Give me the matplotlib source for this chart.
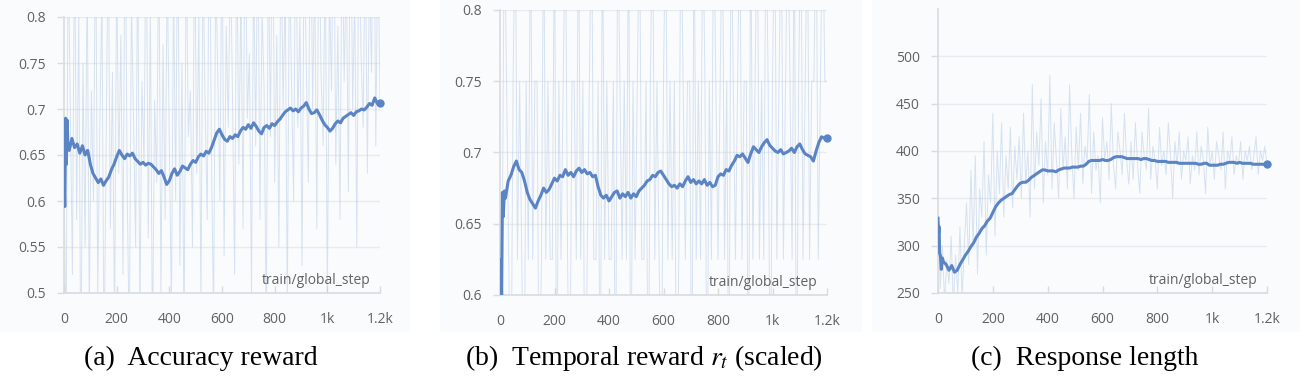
import numpy as np
import matplotlib
matplotlib.use("Agg")
import matplotlib.pyplot as plt
from matplotlib.patches import Rectangle

plt.rcParams['font.family'] = ['Open Sans', 'DejaVu Sans']
plt.rcParams['mathtext.fontset'] = 'stix'

# ---- data ----
raw_step = 8

acc_raw = [
    0.62, 0.45, 0.88, 0.70, 0.52, 0.91, 0.58, 0.80, 0.40, 0.75,
    0.55, 0.85, 0.48, 0.72, 0.60, 0.92, 0.50, 0.68, 0.83, 0.42,
    0.66, 0.90, 0.57, 0.74, 0.46, 0.86, 0.63, 0.78, 0.52, 0.95,
    0.61, 0.44, 0.82, 0.69, 0.55, 0.88, 0.47, 0.73, 0.64, 0.93,
    0.56, 0.81, 0.43, 0.71, 0.62, 0.90, 0.50, 0.77, 0.58, 0.86,
    0.66, 0.48, 0.84, 0.60, 0.94, 0.53, 0.75, 0.45, 0.89, 0.67,
    0.72, 0.55, 0.91, 0.63, 0.80, 0.49, 0.87, 0.70, 0.58, 0.96,
    0.65, 0.47, 0.85, 0.74, 0.60, 0.92, 0.54, 0.79, 0.68, 0.88,
    0.71, 0.52, 0.90, 0.64, 0.83, 0.57, 0.95, 0.69, 0.76, 0.50,
    0.86, 0.66, 0.93, 0.58, 0.81, 0.72, 0.46, 0.89, 0.67, 0.97,
    0.62, 0.78, 0.55, 0.91, 0.70, 0.84, 0.48, 0.87, 0.73, 0.60,
    0.94, 0.68, 0.80, 0.53, 0.90, 0.75, 0.62, 0.96, 0.70, 0.85,
    0.57, 0.92, 0.74, 0.66, 0.88, 0.49, 0.83, 0.72, 0.95, 0.64,
    0.79, 0.58, 0.91, 0.73, 0.86, 0.61, 0.97, 0.70, 0.82, 0.55,
    0.93, 0.76, 0.68, 0.90, 0.63, 0.85, 0.74, 0.98, 0.66, 0.89,
    0.71,
]

temp_raw = [
    0.500, 0.625, 0.875, 0.750, 0.625, 0.500, 0.750, 0.875, 0.625, 0.750,
    0.625, 0.500, 0.750, 0.625, 0.875, 0.625, 0.750, 0.750, 0.500, 0.625,
    0.875, 0.625, 0.750, 0.625, 0.625, 0.875, 0.500, 0.750, 0.625, 0.750,
    0.875, 0.625, 0.500, 0.750, 0.750, 0.625, 0.875, 0.625, 0.750, 0.500,
    0.625, 0.750, 0.875, 0.625, 0.625, 0.750, 0.500, 0.875, 0.625, 0.750,
    0.625, 0.625, 0.750, 0.500, 0.875, 0.750, 0.625, 0.750, 0.625, 0.875,
    0.500, 0.750, 0.625, 0.750, 0.875, 0.625, 0.625, 0.750, 0.500, 0.750,
    0.875, 0.625, 0.750, 0.625, 0.500, 0.750, 0.875, 0.625, 0.750, 0.625,
    0.750, 0.500, 0.625, 0.875, 0.750, 0.625, 0.750, 0.750, 0.500, 0.875,
    0.625, 0.750, 0.625, 0.875, 0.750, 0.500, 0.750, 0.625, 0.875, 0.750,
    0.625, 0.750, 0.875, 0.625, 0.750, 0.500, 0.875, 0.750, 0.625, 0.750,
    0.875, 0.625, 0.750, 0.750, 0.500, 0.875, 0.625, 0.750, 0.875, 0.625,
    0.750, 0.625, 0.875, 0.750, 0.500, 0.750, 0.875, 0.625, 0.750, 0.875,
    0.625, 0.750, 0.875, 0.750, 0.625, 0.875, 0.500, 0.750, 0.875, 0.625,
    0.750, 0.875, 0.625, 0.750, 0.750, 0.875, 0.625, 0.750, 0.875, 0.750,
    0.750,
]

len_raw = [
    330, 255, 300, 240, 285, 260, 310, 235, 290, 250, 320, 245, 300,
    345, 280, 380, 300, 395, 270, 360, 330, 410, 290, 375, 345, 440, 310,
    400, 355, 430, 330, 395, 360, 425, 340, 405, 370, 415,
    350, 440, 365, 400, 330, 470, 360, 420, 385, 455, 345, 410, 375, 480,
    360, 430, 390, 350, 445, 380, 415, 360, 470, 395, 350, 425, 380, 440,
    365, 405, 390, 460, 355, 420, 380, 395, 345, 435, 390, 410, 370, 450,
    385, 360, 420, 400, 375, 440, 390, 365,
    410, 370, 430, 385, 355, 420, 395, 380, 445, 370, 405, 390, 360, 425,
    385, 400, 375, 430, 395, 350, 410, 385, 420, 370, 400, 390, 415, 365,
    395, 380, 420, 375, 405, 390, 355, 425, 385, 400, 370, 410, 395, 380,
    420, 360, 400, 390, 415, 375, 395, 385, 410, 370, 400, 390, 405, 380,
    395, 415, 375, 400, 390, 405, 385,
]

# smoothed curves: a few early steps, then every 10 steps from 20 to 1200
acc_head_steps = [0, 3, 6, 9, 12, 15]
acc_head = [0.625, 0.594, 0.690, 0.640, 0.688, 0.660]
acc_smooth = [
    0.655, 0.668, 0.658, 0.662, 0.652, 0.660, 0.650, 0.655, 0.640, 0.630,
    0.625, 0.620, 0.624, 0.617, 0.622, 0.626, 0.634, 0.640, 0.648, 0.655,
    0.650, 0.646, 0.651, 0.649, 0.652, 0.646, 0.643, 0.640, 0.642, 0.639,
    0.641, 0.640, 0.637, 0.634, 0.630, 0.633, 0.626, 0.618, 0.622, 0.630,
    0.635, 0.628, 0.632, 0.638, 0.636, 0.634, 0.640, 0.644, 0.642, 0.648,
    0.651, 0.649, 0.654, 0.652, 0.658, 0.666, 0.674, 0.678, 0.672, 0.667,
    0.665, 0.670, 0.668, 0.672, 0.670, 0.676, 0.680, 0.678, 0.683, 0.679,
    0.685, 0.681, 0.676, 0.673, 0.680, 0.682, 0.679, 0.684, 0.682, 0.686,
    0.689, 0.693, 0.697, 0.699, 0.701, 0.698, 0.700, 0.697, 0.701, 0.703,
    0.707, 0.700, 0.695, 0.696, 0.699, 0.694, 0.688, 0.683, 0.680, 0.676,
    0.679, 0.684, 0.687, 0.685, 0.690, 0.692, 0.694, 0.696, 0.693, 0.697,
    0.698, 0.700, 0.699, 0.702, 0.706, 0.704, 0.712, 0.706, 0.706,
]

temp_head_steps = [0, 3, 6, 9, 12, 16]
temp_head = [0.600, 0.625, 0.600, 0.672, 0.655, 0.673]
temp_smooth = [
    0.668, 0.680, 0.684, 0.690, 0.694, 0.688, 0.686, 0.680, 0.672, 0.667,
    0.664, 0.661, 0.666, 0.670, 0.675, 0.672, 0.674, 0.678, 0.682, 0.680,
    0.684, 0.683, 0.688, 0.684, 0.686, 0.683, 0.687, 0.689, 0.686, 0.688,
    0.685, 0.686, 0.683, 0.684, 0.676, 0.670, 0.668, 0.670, 0.666, 0.669,
    0.672, 0.673, 0.668, 0.671, 0.669, 0.672, 0.668, 0.671, 0.669, 0.673,
    0.675, 0.677, 0.680, 0.681, 0.684, 0.683, 0.686, 0.687, 0.684, 0.681,
    0.678, 0.676, 0.677, 0.675, 0.678, 0.676, 0.680, 0.683, 0.679, 0.681,
    0.678, 0.680, 0.678, 0.681, 0.677, 0.679, 0.676, 0.677, 0.683, 0.685,
    0.684, 0.688, 0.687, 0.691, 0.694, 0.698, 0.697, 0.699, 0.696, 0.693,
    0.699, 0.704, 0.702, 0.700, 0.704, 0.707, 0.709, 0.705, 0.703, 0.701,
    0.700, 0.702, 0.699, 0.700, 0.701, 0.703, 0.700, 0.704, 0.706, 0.702,
    0.699, 0.698, 0.697, 0.694, 0.701, 0.707, 0.711, 0.710, 0.710,
]

len_head_steps = [0, 2, 4, 6, 9, 12, 16]
len_head = [329, 313, 320, 292, 289, 275, 287]
len_smooth = [
    283, 280, 274, 279, 272, 274, 280, 285, 290, 294,
    299, 303, 309, 313, 318, 321, 326, 329, 335, 341,
    345, 348, 350, 352, 354, 355, 359, 363, 366, 367,
    367, 369, 372, 374, 376, 378, 380, 380, 379, 379,
    379, 378, 380, 381, 382, 382, 382, 383, 383, 383,
    384, 384, 386, 389, 390, 390, 390, 390, 391, 390,
    390, 391, 393, 394, 394, 394, 393, 392, 392, 392,
    392, 392, 391, 392, 392, 391, 390, 390, 389, 389,
    389, 389, 388, 388, 388, 388, 387, 387, 387, 387,
    387, 387, 387, 386, 386, 387, 387, 385, 385, 385,
    385, 386, 386, 387, 388, 388, 388, 387, 388, 387,
    387, 387, 387, 386, 386, 386, 386, 386, 386,
]

captions = ["(a)  Accuracy reward", "(b)  Temporal reward $r_t$ (scaled)", "(c)  Response length"]
ylims = [(0.5, 0.8), (0.6, 0.8), (250, 550)]
yticks = [[0.5, 0.55, 0.6, 0.65, 0.7, 0.75, 0.8],
          [0.6, 0.65, 0.7, 0.75, 0.8],
          [250, 300, 350, 400, 450, 500]]
ytick_labels = [["0.5", "0.55", "0.6", "0.65", "0.7", "0.75", "0.8"],
                ["0.6", "0.65", "0.7", "0.75", "0.8"],
                ["250", "300", "350", "400", "450", "500"]]
xticks = [0, 200, 400, 600, 800, 1000, 1200]
xtick_labels = ["0", "200", "400", "600", "800", "1k", "1.2k"]

series = [
    (acc_raw, acc_head_steps, acc_head, acc_smooth),
    (temp_raw, temp_head_steps, temp_head, temp_smooth),
    (len_raw, len_head_steps, len_head, len_smooth),
]

W, H = 1308, 385
fig = plt.figure(figsize=(W / 100, H / 100), dpi=100, facecolor='white')

# axes boxes in pixels: left, right, top, bottom
boxes = [(64, 380, 17, 293), (500, 827, 10, 295), (938, 1267, 9, 293)]
cards = [(0, 410), (440, 862), (872, 1300)]
cap_x = [201, 644, 1085]

main_c = '#5a84c3'
raw_c = '#b9cde8'
grid_c = '#e9ebee'
spine_c = '#d9dbde'
text_c = '#626262'

for i, (l, r, t, b) in enumerate(boxes):
    cl, cr = cards[i]
    fig.patches.append(Rectangle((cl / W, 1 - 332 / H), (cr - cl) / W, 332 / H,
                                 transform=fig.transFigure, facecolor='#fafbfc',
                                 edgecolor='none', zorder=-5))
    ax = fig.add_axes([l / W, 1 - b / H, (r - l) / W, (b - t) / H], zorder=2)
    ax.set_facecolor('none')
    raw, hs, hv, sm = series[i]
    xr = np.arange(len(raw)) * raw_step
    ax.plot(xr, raw, color=raw_c, lw=0.7, alpha=0.55, zorder=1)
    xs = list(hs) + list(range(20, 20 + 10 * len(sm), 10))
    ys = list(hv) + list(sm)
    ax.plot(xs, ys, color=main_c, lw=2.2, zorder=3)
    ax.plot(xs[-1:], ys[-1:], 'o', color=main_c, ms=5, zorder=4, clip_on=False)

    ax.set_xlim(0, 1200)
    ax.set_ylim(*ylims[i])
    ax.set_yticks(yticks[i])
    ax.set_yticklabels(ytick_labels[i])
    ax.set_xticks(xticks)
    ax.set_xticklabels(xtick_labels)
    ax.grid(axis='y', color=grid_c, lw=1)
    ax.set_axisbelow(True)
    for s in ['top', 'right']:
        ax.spines[s].set_visible(False)
    for s in ['left', 'bottom']:
        ax.spines[s].set_color(spine_c)
        ax.spines[s].set_linewidth(1.2)
    ax.tick_params(axis='x', direction='in', length=5, width=1, color=spine_c,
                   pad=14, labelsize=10, labelcolor=text_c)
    ax.tick_params(axis='y', direction='out', length=5, width=1, color=spine_c,
                   pad=8, labelsize=10, labelcolor=text_c)
    ax.text(0.97, 0.045, 'train/global_step', transform=ax.transAxes,
            ha='right', va='center', fontsize=10, color=text_c)

    fig.text(cap_x[i] / W, 1 - 358 / H, captions[i], ha='center', va='center',
             fontsize=20, family='Liberation Serif', color='black')

fig.savefig('out.png', dpi=100, facecolor='white')
